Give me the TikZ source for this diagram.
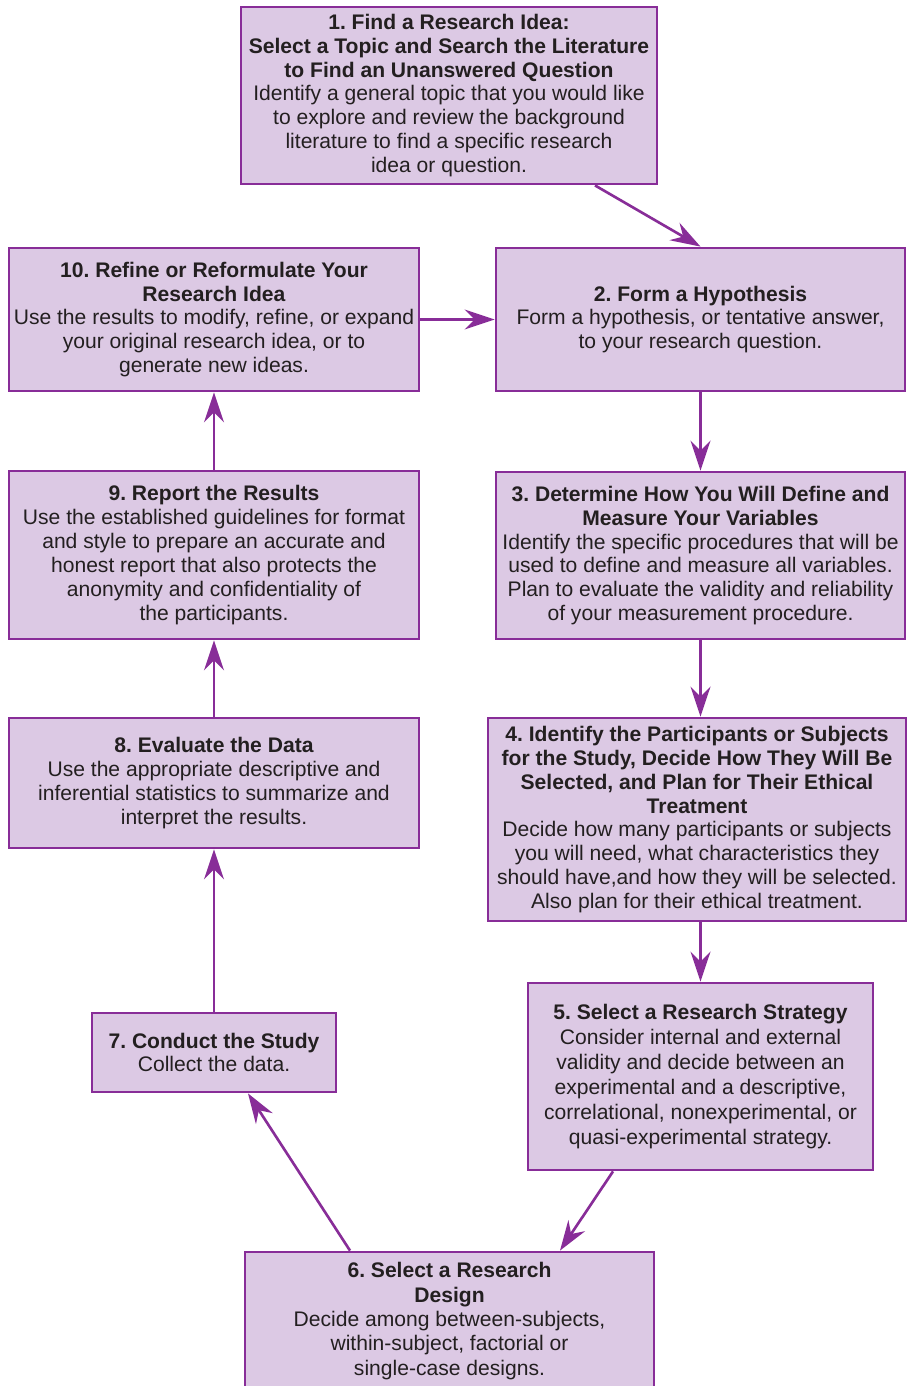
\documentclass[tikz,border=0pt]{standalone}
\usepackage{fontspec}
\setmainfont{Liberation Sans}
\usepackage{tikz}
\usetikzlibrary{arrows.meta}
\usetikzlibrary{calc}
\definecolor{boxfill}{HTML}{DCC9E4}
\definecolor{boxline}{HTML}{882D98}
\definecolor{textgray}{HTML}{231F20}
\newcommand{\hd}[1]{\textbf{#1}}
\frenchspacing
\tikzset{
    stepbox/.style={draw=boxline,fill=boxfill,line width=1.6pt,inner sep=0pt,
        align=center,text=textgray,font=\fontsize{12}{13.6}\selectfont},
    flow/.style={draw=boxline,line width=1.5pt,
        -{Stealth[length=6mm,width=4mm,inset=2mm]}}
}
\begin{document}
\begin{tikzpicture}[x=0.02cm,y=-0.02cm]
                \useasboundingbox (0,0) rectangle (907,1386);
                %boxes
                \node[stepbox,minimum width=416*0.02cm,minimum height=177*0.02cm] (find) at (449,95.5)
                    {\hd{1. Find a Research Idea:}\\\hd{Select a Topic and Search the Literature}\\\hd{to Find an Unanswered Question}\\Identify a general topic that you would like\\to explore and review the background\\literature to find a specific research\\idea or question.};
                \node[stepbox,minimum width=409*0.02cm,minimum height=143*0.02cm] (hypo) at (700.5,319.5)
                    {\hd{2. Form a Hypothesis}\\Form a hypothesis, or tentative answer,\\to your research question.};
                \node[stepbox,minimum width=410*0.02cm,minimum height=143*0.02cm] (refine) at (214,319.5)
                    {\hd{10. Refine or Reformulate Your}\\\hd{Research Idea}\\Use the results to modify, refine, or expand\\your original research idea, or to\\generate new ideas.};
                \node[stepbox,minimum width=409*0.02cm,minimum height=167*0.02cm] (vars) at (700.5,555.5)
                    {\hd{3. Determine How You Will Define and}\\\hd{Measure Your Variables}\\Identify the specific procedures that will be\\used to define and measure all variables.\\Plan to evaluate the validity and reliability\\of your measurement procedure.};
                \node[stepbox,minimum width=410*0.02cm,minimum height=168*0.02cm] (report) at (214,555)
                    {\hd{9. Report the Results}\\Use the established guidelines for format\\and style to prepare an accurate and\\honest report that also protects the\\anonymity and confidentiality of\\the participants.};
                \node[stepbox,minimum width=418*0.02cm,minimum height=203*0.02cm] (subj) at (697,819.5)
                    {\hd{4. Identify the Participants or Subjects}\\\hd{for the Study, Decide How They Will Be}\\\hd{Selected, and Plan for Their Ethical}\\\hd{Treatment}\\Decide how many participants or subjects\\you will need, what characteristics they\\should have,and how they will be selected.\\Also plan for their ethical treatment.};
                \node[stepbox,minimum width=410*0.02cm,minimum height=130*0.02cm] (eval) at (214,783)
                    {\hd{8. Evaluate the Data}\\Use the appropriate descriptive and\\inferential statistics to summarize and\\interpret the results.};
                \node[stepbox,font=\fontsize{12}{14.2}\selectfont,minimum width=345*0.02cm,minimum height=187*0.02cm] (strat) at (700.5,1076.5)
                    {\hd{5. Select a Research Strategy}\\Consider internal and external\\validity and decide between an\\experimental and a descriptive,\\correlational, nonexperimental, or\\quasi-experimental strategy.};
                \node[stepbox,minimum width=244*0.02cm,minimum height=79*0.02cm] (study) at (214,1052.5)
                    {\hd{7. Conduct the Study}\\Collect the data.};
                \node[stepbox,font=\fontsize{12}{13.9}\selectfont,minimum width=409*0.02cm,minimum height=138*0.02cm] (design) at (449.5,1321)
                    {\hd{6. Select a Research}\\\hd{Design}\\Decide among between-subjects,\\within-subject, factorial or\\single-case designs.};
                %arrows
                \draw[flow] ($(find.south)+(146,0)$) -- (hypo.north);
                \draw[flow] (refine.east) -- (hypo.west);
                \draw[flow] (hypo.south) -- (vars.north);
                \draw[flow] (vars.south) -- (vars.south |- subj.north);
                \draw[flow] (subj.south -| strat.north) -- (strat.north);
                \draw[flow] ($(strat.south)+(-87.5,0)$) -- ($(design.north)+(110.5,0)$);
                \draw[flow] ($(design.north)+(-99.5,0)$) -- ($(study.south)+(34,0)$);
                \draw[flow] (study.north) -- (eval.south);
                \draw[flow] (eval.north) -- (report.south);
                \draw[flow] (report.north) -- (refine.south);
            \end{tikzpicture}
\end{document}
